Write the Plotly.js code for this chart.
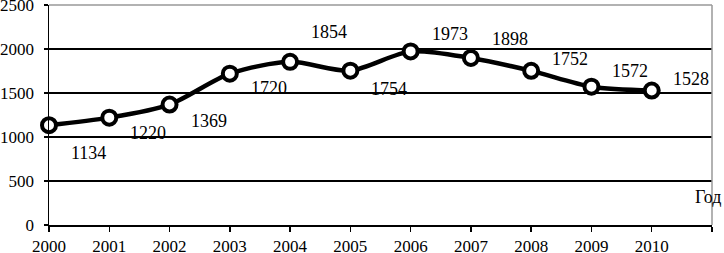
<!DOCTYPE html>
<html>
<head>
<meta charset="utf-8">
<script src="https://cdn.plot.ly/plotly-3.0.1.min.js"></script>
<style>html,body{margin:0;padding:0;background:#fff;}#chart{width:724px;height:253px;}</style>
</head>
<body>
<div id="chart"></div>
<script>
// Data
const years = [2000, 2001, 2002, 2003, 2004, 2005, 2006, 2007, 2008, 2009, 2010];
const values = [1134, 1220, 1369, 1720, 1854, 1754, 1973, 1898, 1752, 1572, 1528];
const yTicks = [0, 500, 1000, 1500, 2000, 2500];
const xTicks = [2000, 2001, 2002, 2003, 2004, 2005, 2006, 2007, 2008, 2009, 2010, 2011];
const axisLabel = 'Год';

// Label placement (style, pixels): right shift and downward shift
const labelDx = 39;
const labelDy = [28, 15, 16, 14, -30, 18, -17, -19, -12, -16, -12];

const font = {family: 'Liberation Serif, Times New Roman, serif', size: 17, color: '#000'};
const labelFont = {family: 'Liberation Serif, Times New Roman, serif', size: 18, color: '#000'};

const trace = {
  x: years, y: values, type: 'scatter', mode: 'lines+markers',
  line: {color: '#000', width: 4.5, shape: 'spline', smoothing: 0.8},
  marker: {symbol: 'circle', size: 14, color: '#fff', line: {color: '#000', width: 4}},
  cliponaxis: false, hoverinfo: 'skip'
};

const annotations = years.map((yr, i) => ({
  x: yr, y: values[i], xref: 'x', yref: 'y', text: String(values[i]),
  showarrow: false, xshift: labelDx, yshift: -labelDy[i], font: labelFont,
  xanchor: 'center', yanchor: 'middle'
}));
annotations.push({
  x: 2011, y: 320, xref: 'x', yref: 'y', text: axisLabel, showarrow: false,
  xshift: -4, font: labelFont, xanchor: 'center', yanchor: 'middle'
});

const layout = {
  width: 724, height: 253,
  margin: {l: 49, r: 12, t: 5, b: 28},
  paper_bgcolor: '#fff', plot_bgcolor: '#fff',
  showlegend: false,
  font: font,
  xaxis: {
    range: [2000, 2011], tickvals: xTicks,
    ticktext: xTicks.map(v => v <= years[years.length - 1] ? String(v) : ''),
    showgrid: false, zeroline: false, showline: true, linecolor: '#000', linewidth: 1.5,
    ticks: 'outside', ticklen: 5, tickcolor: '#000', tickwidth: 1.5,
    ticklabelstandoff: 0,
    tickfont: font, ticklabeloverflow: 'allow', fixedrange: true
  },
  yaxis: {
    range: [0, 2500], tickvals: yTicks, ticktext: yTicks.map(String),
    showgrid: true, gridcolor: '#000', gridwidth: 1.5,
    zeroline: false, showline: true, linecolor: '#000', linewidth: 1.5,
    ticks: 'outside', ticklen: 4, tickcolor: '#000', tickwidth: 1.5,
    ticklabelstandoff: 6, tickfont: font, ticklabeloverflow: 'allow', fixedrange: true
  },
  shapes: [
    {type: 'line', xref: 'paper', yref: 'paper', x0: 0, x1: 1, y0: 1, y1: 1, line: {color: '#999', width: 1.5}, layer: 'above'},
    {type: 'line', xref: 'paper', yref: 'paper', x0: 1, x1: 1, y0: 0, y1: 1, line: {color: '#999', width: 1.5}, layer: 'above'}
  ],
  annotations: annotations
};

Plotly.newPlot('chart', [trace], layout, {staticPlot: true, displayModeBar: false});
</script>
</body>
</html>
